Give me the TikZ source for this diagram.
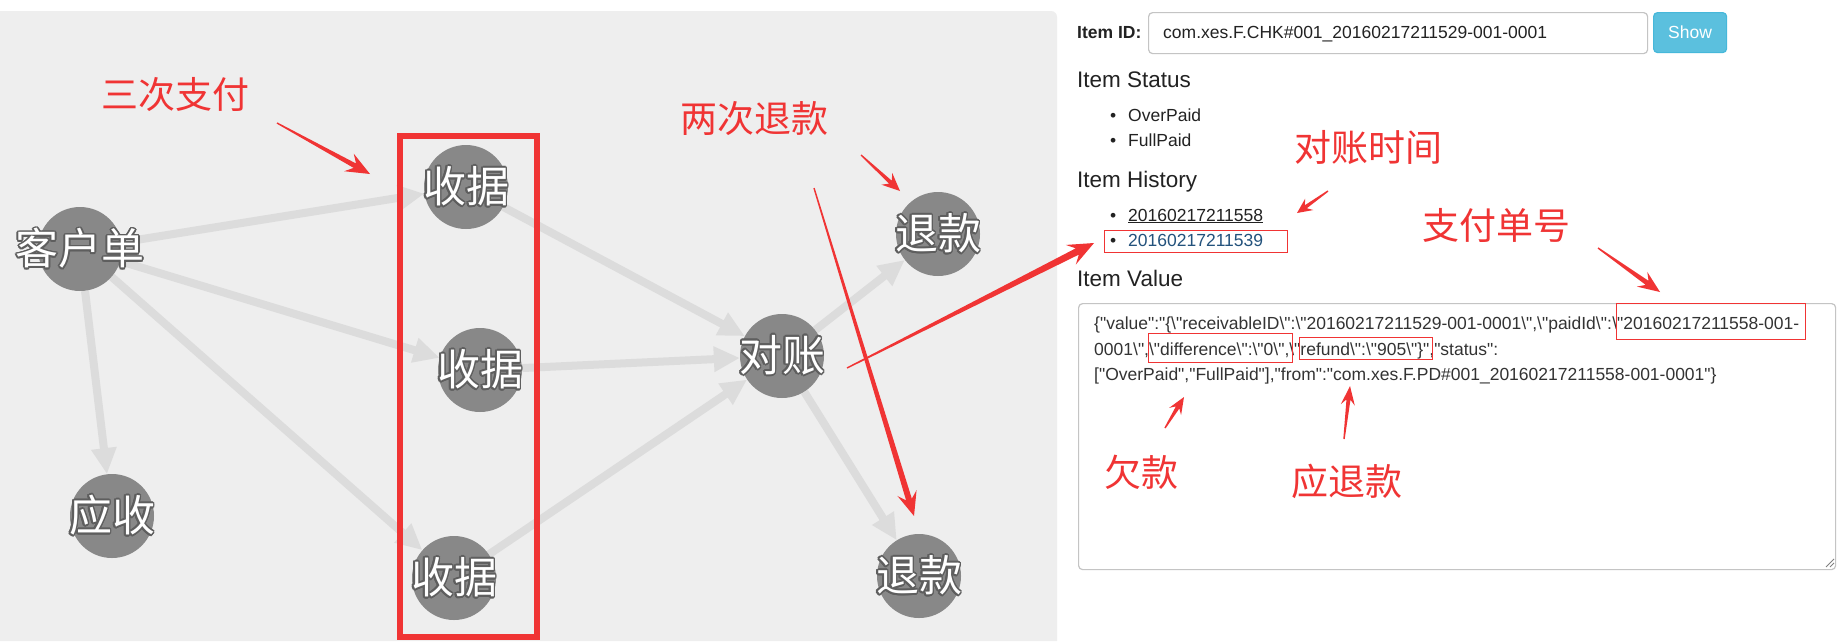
\documentclass[tikz,border=0pt]{standalone}
\usepackage{fontspec}
\newfontfamily\webfont{Liberation Sans}
\newfontfamily\cjk{Noto Sans CJK SC}
\usepackage[copies]{contour}
\contourlength{1.6pt}
\usetikzlibrary{arrows.meta,calc}

\definecolor{panel}{HTML}{EEEEEE}
\definecolor{edgegray}{HTML}{DCDCDC}
\definecolor{nodegray}{HTML}{888888}
\definecolor{rimgray}{HTML}{5E5E5E}
\definecolor{annot}{RGB}{240,52,52}
\definecolor{btn}{HTML}{5BC0DE}
\definecolor{btnline}{HTML}{46B8DA}
\definecolor{fieldline}{HTML}{C4C4C4}
\definecolor{txt}{HTML}{222222}
\definecolor{valtxt}{HTML}{333333}
\definecolor{link}{HTML}{23527C}

\pgfdeclarelayer{background}
\pgfsetlayers{background,main}

\newcommand{\bs}{\textbackslash}
\newcommand{\vtext}[1]{\makebox[0pt]{\contour{rimgray}{#1}}}
% tapered red pointer: tail, tip, half shaft, head length, half head
\newcommand{\pointer}[5]{%
  \coordinate (ph) at ($(#2)!#4pt!(#1)$);
  \coordinate (pj) at ($(#2)!0.72*#4pt!(#1)$);
  \fill[annot] ($(#1)!0.7pt!-90:(#2)$) -- ($(pj)!#3pt!-90:(#2)$)
    -- ($(ph)!#5pt!-90:(#2)$) -- (#2) -- ($(ph)!#5pt!90:(#2)$)
    -- ($(pj)!#3pt!90:(#2)$) -- ($(#1)!0.7pt!90:(#2)$) -- cycle;}

\begin{document}
\begin{tikzpicture}[x=1pt, y=-1pt,
  vert/.style={circle, fill=nodegray, minimum size=84pt, inner sep=0pt,
    text=white, font=\cjk\fontsize{43}{43}\selectfont},
  flow/.style={draw=edgegray, line width=8pt,
    -{Triangle[length=26pt,width=24pt]}},
  note/.style={text=annot, inner sep=0pt, font=\cjk\fontsize{37}{37}\selectfont},
  hlbox/.style={draw=annot, line width=1pt, inner sep=0pt},
  web/.style={anchor=base west, inner sep=0pt, text=txt,
    font=\webfont\fontsize{17.5}{21}\selectfont},
  heading/.style={web, font=\webfont\fontsize{22.5}{27}\selectfont},
  field/.style={draw=fieldline, line width=1.2pt, rounded corners=4pt,
    fill=white, inner sep=0pt, anchor=north west}]

  \begin{pgfonlayer}{background}
    \fill[white] (0,0) rectangle (1838,641);
    \fill[panel] (0,641) -- (0,11) [rounded corners=6pt] -- (1057,11)
      [sharp corners] -- (1057,641) -- cycle;
  \end{pgfonlayer}
  \useasboundingbox (0,0) rectangle (1838,641);

  % graph
  \node[vert] (cust)  at (80,249)  {\vtext{客户单}};
  \node[vert] (recv)  at (112,516) {\vtext{应收}};
  \node[vert] (rcpt1) at (466,187) {\vtext{收据}};
  \node[vert] (rcpt2) at (480,370) {\vtext{收据}};
  \node[vert] (rcpt3) at (454,578) {\vtext{收据}};
  \node[vert] (check) at (782,356) {\vtext{对账}};
  \node[vert] (ref1)  at (938,234) {\vtext{退款}};
  \node[vert] (ref2)  at (919,576) {\vtext{退款}};

  \begin{pgfonlayer}{background}
    \path (cust) edge[flow] (rcpt1) edge[flow] (rcpt2)
                 edge[flow] (rcpt3) edge[flow] (recv);
    \foreach \r in {rcpt1,rcpt2,rcpt3}
      \path (\r) edge[flow] (check);
    \path (check) edge[flow] (ref1) edge[flow] (ref2);
  \end{pgfonlayer}

  \draw[annot, line width=6pt] (400,136) rectangle (537,637);

  % form
  \node[web, font=\webfont\bfseries\fontsize{17.5}{21}\selectfont] (idlbl) at (1077,38) {Item ID:};
  \node[field, minimum width=499pt, minimum height=41pt] (idfield) at (1148,12) {};
  \node[web] (idtext) at (1163,38) {com.xes.F.CHK\#001\_20160217211529-001-0001};
  \node[field, fill=btn, draw=btnline, minimum width=73pt, minimum height=40pt,
    text=white, font=\webfont\fontsize{17.5}{21}\selectfont] (show) at (1653,12) {Show};

  \node[heading] (status) at (1077,87) {Item Status};
  \node[web] (dot1) at (1110,121) {\textbullet};
  \node[web] (st1)  at (1128,121) {OverPaid};
  \node[web] (dot2) at (1110,146) {\textbullet};
  \node[web] (st2)  at (1128,146) {FullPaid};

  \node[heading] (history) at (1077,187) {Item History};
  \node[web] (dot3) at (1110,221) {\textbullet};
  \node[web] (hist1) at (1128,221) {\underline{20160217211558}};
  \node[web] (dot4) at (1110,246) {\textbullet};
  \node[web, text=link] (hist2) at (1128,246) {20160217211539};
  \node[hlbox, minimum width=183pt, minimum height=22pt] (histbox) at (1195.5,241) {};

  \node[heading] (value) at (1077,286) {Item Value};
  \node[field, minimum width=757pt, minimum height=266pt] (valuebox) at (1078,303) {};
  \draw[gray, line width=0.8pt] (1826,567) -- (1834,559) (1830,567) -- (1834,563);

  \node[web, text=valtxt] (val1a) at (1094,329.5)
    {\{"value":"\{\bs"receivableID\bs":\bs"20160217211529-001-0001\bs",\bs"paidId\bs":};
  \node[web, text=valtxt] (val1b) at (val1a.base east) {\bs"20160217211558-001-};
  \node[web, text=valtxt] (val2) at (1094,355)
    {0001\bs",\bs"difference\bs":\bs"0\bs",\bs"refund\bs":\bs"905\bs"\}","status":};
  \node[web, text=valtxt] (val3) at (1094,380.5)
    {["OverPaid","FullPaid"],"from":"com.xes.F.PD\#001\_20160217211558-001-0001"\}};
  \node[hlbox, minimum width=189pt, minimum height=36pt] (paidbox) at (1710.5,321) {};
  \node[hlbox, minimum width=144pt, minimum height=29pt] (diffbox) at (1220,347.5) {};
  \node[hlbox, minimum width=133pt, minimum height=22pt] (refbox)  at (1365.5,348) {};

  % notes
  \node[note] (npay)    at (175,95)   {三次支付};
  \node[note] (nrefund) at (754,119)  {两次退款};
  \node[note] (ntime)   at (1368,148) {对账时间};
  \node[note] (npayno)  at (1496,225) {支付单号};
  \node[note] (nowe)    at (1141,472) {欠款};
  \node[note] (nback)   at (1347,481) {应退款};

  % pointers
  \coordinate (p1a) at (277,123);  \coordinate (p1b) at (370,174);
  \coordinate (p2a) at (861,155);  \coordinate (p2b) at (900,191);
  \coordinate (p3a) at (814,188);  \coordinate (p3b) at (914,516);
  \coordinate (p4a) at (847,368);  \coordinate (p4b) at (1094,243);
  \coordinate (p5a) at (1328,191); \coordinate (p5b) at (1297,213);
  \coordinate (p6a) at (1598,248); \coordinate (p6b) at (1660,292);
  \coordinate (p7a) at (1165,428); \coordinate (p7b) at (1184,397);
  \coordinate (p8a) at (1344,439); \coordinate (p8b) at (1350,386);
  \pointer{p1a}{p1b}{2.5}{24}{10}
  \pointer{p2a}{p2b}{2}{18}{8}
  \pointer{p3a}{p3b}{3}{24}{10}
  \pointer{p4a}{p4b}{3.5}{26}{11}
  \pointer{p5a}{p5b}{1.8}{15}{7}
  \pointer{p6a}{p6b}{2.5}{22}{9}
  \pointer{p7a}{p7b}{2}{17}{7}
  \pointer{p8a}{p8b}{2}{19}{7}
\end{tikzpicture}
\end{document}
